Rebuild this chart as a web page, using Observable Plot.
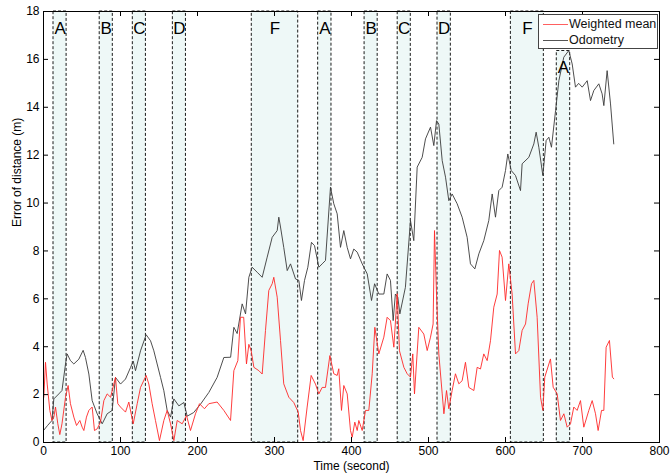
<!DOCTYPE html>
<html>
<head>
<meta charset="utf-8">
<script src="https://cdn.jsdelivr.net/npm/d3@7"></script>
<script src="https://cdn.jsdelivr.net/npm/@observablehq/plot@0.6"></script>
<style>
  html, body { margin: 0; padding: 0; background: #fff; }
  #wrap { position: relative; width: 670px; height: 476px; font-family: "Liberation Sans", Arial, sans-serif; }
  #legend { position: absolute; left: 538px; top: 14px; width: 118px; height: 33px; background: #fff; border: 1px solid #444; font-size: 12.5px; color: #111; }
  .row { position: absolute; left: 4px; height: 16px; display: flex; align-items: center; }
  .sw { width: 25px; height: 0; border-top: 1px solid; margin-right: 1px; }
</style>
</head>
<body>
<div id="wrap"></div>
<script>
// Odometry series (time in seconds, error in m)
const odoTime = [0,5,11,13.4,19.9,24,28.6,30.7,35,39.4,45.9,51.5,54.5,58.9,63.2,69.7,76.2,82.7,89.2,93.5,100,106.5,113,116.5,119.5,126,133.3,139,143.3,147.6,152,156.3,160.6,165,169.3,175.8,182.3,186.6,195,203.9,214.7,225.5,234.2,243,247.2,251.5,258,262.4,266.7,271,277.5,284,290.5,297,303.5,305.6,307.8,312,316.5,320.8,327.3,331.6,335,339,343.3,348,352,357.6,361.9,366.2,372.7,377,381.4,385.7,390,394.4,398.7,403,407.4,413.9,420.4,426,430,435.5,442,446.3,450.6,454.1,457,460.2,462.8,470,476.6,480.9,485.3,491.8,496.1,502.6,506.9,510.4,513.4,517.8,522.1,526.4,530.7,537.2,543.7,550.2,554.5,560.2,565.4,571.8,578.3,582.7,587,591.3,595.6,600,603,607.4,613,619.5,621.6,630.3,636.8,639.8,643.3,648.5,652.8,656.3,659.7,665,669.3,675.7,682.2,686.6,690.9,695,699.6,706.1,710.4,714.7,721.2,725.5,727.7,732,736.4,740.6];
const odometry = [0.5,0.7,0.92,1.82,2.03,2.17,3.28,3.7,3.42,3.28,3.48,3.85,3.55,2.86,1.75,1.2,0.78,1.2,1.34,2.72,2.44,2.65,3.13,3.4,3.0,3.83,4.5,4.25,3.83,3.28,2.72,2.16,1.34,1.06,1.82,1.53,1.67,1.1,1.25,1.6,2.09,2.72,3.55,3.56,4.81,4.55,5.79,5.37,6.9,7.32,7.11,6.9,7.74,8.57,8.85,9.41,9.0,8.15,7.18,7.46,6.83,6.77,5.93,6.77,7.32,8.36,8.22,7.32,7.46,7.6,10.66,9.97,9.55,8.15,8.85,8.15,7.67,8.08,7.95,7.46,7.04,5.93,6.63,6.2,6.2,7.04,6.77,5.09,6.2,6.06,5.37,6.48,9.27,8.43,11.5,11.91,12.68,13.17,12.4,13.44,13.3,11.77,11.08,10.1,10.38,9.97,9.41,8.57,7.46,7.25,7.88,8.43,9.27,10.38,9.41,10.52,10.66,11.36,12.05,11.36,11.15,10.52,11.64,11.91,12.47,12.96,12.33,11.15,12.61,12.75,12.33,13.86,15.11,16.09,16.37,15.81,14.84,15.0,14.84,15.11,14.28,14.7,14.98,14.56,14.07,15.53,14.14,12.47];

// Weighted mean series
const wmTime = [0.4,2.6,4.8,8.2,11,13.4,15.6,18.6,21.2,24,28.6,32,35,39.4,42.9,47.2,50.2,52.4,55.8,58.9,63.2,66.2,69.7,74,78.4,82.7,87.1,93.5,96.5,100,106.5,110.8,116.5,121.7,126,133.3,136.8,141.1,145.4,150.6,156.3,160.6,165,169.3,173.6,180.1,185.7,190.9,197.4,202.6,209,214.7,225.5,234.2,242.9,247.2,252.4,255.8,260,263.6,266.7,269.7,273.2,279.7,284,288.3,292.6,297,299.1,303.5,307.8,312,318.6,325,330.8,333.8,337.2,342.4,347.6,353.2,357.6,361.9,366.2,371.9,377,381.4,383.5,387,390,394.4,398.7,400.9,404.3,407.4,409.5,413.9,418.2,422.5,426.9,430.3,435.5,442,446.3,450.6,455,459.3,462.3,468,472.3,476.6,479.6,481.8,487.4,493.9,498.3,502.6,506,507.8,510.4,513.4,517.8,520,523.4,526.4,530.7,535,539.4,543.7,548,552.4,558.9,563.2,567.5,571.8,576.2,580.5,584.8,589.2,592.2,595.6,600,604.3,608.6,613,617.3,621.6,626,629.4,633.8,636.8,641.1,645.5,648.5,651,658.4,661.9,667.1,671.4,675.8,680.1,684.4,688.7,693,697.4,701.7,708.2,712.6,716.9,720.3,724.7,727.7,730.7,735,738.8,740.6];
const weightedMean = [1.89,3.35,2.44,1.34,0.92,1.06,1.48,0.78,0.33,0.78,1.89,2.38,1.62,1.06,0.71,0.92,0.64,0.5,1.06,1.34,1.48,0.5,0.57,0.85,1.75,2.03,1.89,2.72,1.62,1.48,1.27,1.69,0.78,1.62,2.3,2.8,2.44,1.62,0.92,0.08,0.92,1.34,0.78,0.08,0.92,0.78,1.13,0.5,1.2,1.62,1.41,1.62,1.69,1.34,0.92,3.0,3.42,5.23,5.23,3.28,4.1,3.83,3.14,3.0,2.86,4.68,6.35,6.63,6.9,6.07,4.26,2.45,1.89,1.67,1.27,0.5,0.08,1.48,2.8,2.44,2.03,2.3,2.3,3.63,2.87,2.8,3.08,1.34,2.38,2.03,0.5,0.22,0.85,0.5,0.92,0.5,1.34,1.34,2.87,4.81,3.7,4.4,5.23,5.09,3.98,6.21,3.83,3.14,2.87,2.73,3.7,2.03,4.81,4.53,3.84,4.4,4.95,8.85,6.2,3.7,2.03,1.2,2.17,1.41,2.17,2.87,2.45,2.58,3.35,2.3,2.17,3.14,3.07,3.7,3.42,4.25,5.65,6.2,8.02,7.74,5.93,7.46,6.2,3.7,3.84,4.68,4.95,5.79,6.63,6.77,5.23,1.89,1.34,2.73,3.49,2.31,2.03,0.92,1.2,0.64,0.78,1.48,1.34,1.75,0.64,1.34,1.75,1.2,0.5,1.34,1.34,3.98,4.26,2.73,2.66];

// Highlighted intervals
const regionLabels = ["A","B","C","D","F","A","B","C","D","F","A"];
const regionStart = [13,73,116,168,270.5,356.7,417,460,511.7,607,666.6];
const regionEnd   = [30,90,133,185,330.8,374,434,477,529,649.8,684];
const regionTop   = [18,18,18,18,18,18,18,18,18,18,16.35];
const labelLevel  = [17.3,17.3,17.3,17.3,17.3,17.3,17.3,17.3,17.3,17.3,15.65];

const xTicks = [0,100,200,300,400,500,600,700,800];
const yTicks = [0,2,4,6,8,10,12,14,16,18];

const odoData = odoTime.map((t, i) => ({t, v: odometry[i]}));
const wmData = wmTime.map((t, i) => ({t, v: weightedMean[i]}));
const regions = regionLabels.map((label, i) => ({label, x1: regionStart[i], x2: regionEnd[i], top: regionTop[i], ly: labelLevel[i]}));

const W = 670, H = 476, mL = 43, mR = 11, mT = 11, mB = 34;
const plotW = W - mL - mR, plotH = H - mT - mB, tk = 5;

const chart = Plot.plot({
  width: W, height: H,
  marginLeft: mL, marginRight: mR, marginTop: mT, marginBottom: mB,
  style: {fontFamily: "Liberation Sans, Arial, sans-serif", fontSize: "12px", color: "#000", background: "#fff"},
  x: {domain: [0, 800], label: null},
  y: {domain: [0, 18], label: null},
  marks: [
    Plot.rect(regions, {x1: "x1", x2: "x2", y1: 0, y2: "top", fill: "#eef8f7", stroke: "#000", strokeWidth: 0.9, strokeDasharray: "3,2"}),
    Plot.line(odoData, {x: "t", y: "v", stroke: "#3a3a3a", strokeWidth: 0.9}),
    Plot.line(wmData, {x: "t", y: "v", stroke: "#ff2828", strokeWidth: 0.9}),
    Plot.text(regions, {x: d => (d.x1 + d.x2) / 2, y: "ly", text: "label", fontSize: 17, fill: "#000"}),
    Plot.frame({stroke: "#000", strokeWidth: 1}),
    Plot.tickX(xTicks, {x: d => d, insetTop: plotH - tk, stroke: "#000"}),
    Plot.tickX(xTicks, {x: d => d, insetBottom: plotH - tk, stroke: "#000"}),
    Plot.tickY(yTicks, {y: d => d, insetRight: plotW - tk, stroke: "#000"}),
    Plot.tickY(yTicks, {y: d => d, insetLeft: plotW - tk, stroke: "#000"}),
    Plot.axisX(xTicks, {tickSize: 0, tickPadding: 4, label: null, fontSize: 12}),
    Plot.axisY(yTicks, {tickSize: 0, tickPadding: 4, label: null, fontSize: 12}),
    Plot.text(["Time (second)"], {frameAnchor: "bottom", dy: 27, fontSize: 12}),
    Plot.text(["Error of distance (m)"], {frameAnchor: "left", dx: -26, rotate: -90, fontSize: 12})
  ]
});

const wrap = document.getElementById("wrap");
wrap.appendChild(chart);
const legend = document.createElement("div");
legend.id = "legend";
legend.innerHTML = `
  <div class="row" style="top:1px"><span class="sw" style="border-color:#ff6060"></span>Weighted mean</div>
  <div class="row" style="top:17px"><span class="sw" style="border-color:#555"></span>Odometry</div>`;
wrap.appendChild(legend);
</script>
</body>
</html>
